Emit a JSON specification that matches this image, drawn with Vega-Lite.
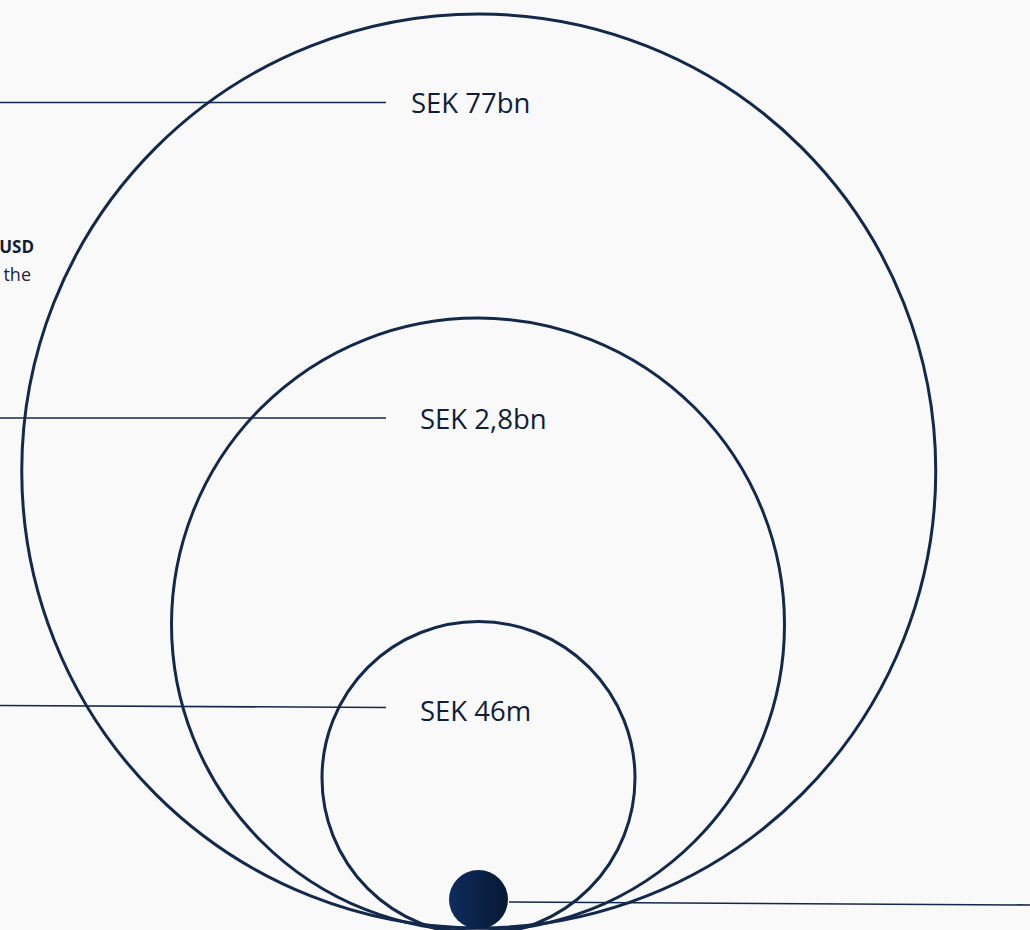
{
  "$schema": "https://vega.github.io/schema/vega-lite/v6.json",
  "autosize": {"type": "none"},
  "width": 1030,
  "height": 930,
  "padding": 0,
  "background": "#f9f9fa",
  "config": {"view": {"stroke": null}},
  "datasets": {
    "circles": [
      {"label": "SEK 77bn", "cx": 478.75, "cy": 471, "r": 457},
      {"label": "SEK 2,8bn", "cx": 478, "cy": 624.5, "r": 306.5},
      {"label": "SEK 46m", "cx": 478.5, "cy": 778, "r": 156.5}
    ],
    "dot": [{"cx": 478.5, "cy": 899.5, "r": 29.5}],
    "leaders": [
      {"x1": 0, "y1": 102.5, "x2": 386, "y2": 102.5},
      {"x1": 0, "y1": 418, "x2": 386, "y2": 418},
      {"x1": 0, "y1": 705.5, "x2": 386, "y2": 707.5},
      {"x1": 509, "y1": 902, "x2": 1030, "y2": 905}
    ],
    "labels": [
      {"text": "SEK 77bn", "x": 411, "y": 113},
      {"text": "SEK 2,8bn", "x": 420, "y": 429},
      {"text": "SEK 46m", "x": 420, "y": 720.5}
    ],
    "side_bold": [{"text": "USD", "x": 34, "y": 253}],
    "side_plain": [{"text": "the", "x": 31, "y": 281}]
  },
  "layer": [
    {
      "data": {"name": "leaders"},
      "mark": {"type": "rule", "color": "#13294b", "strokeWidth": 1.6},
      "encoding": {
        "x": {"field": "x1", "type": "quantitative", "scale": {"domain": [0, 1030], "nice": false, "zero": false}, "axis": null},
        "y": {"field": "y1", "type": "quantitative", "scale": {"domain": [0, 930], "nice": false, "zero": false, "reverse": true}, "axis": null},
        "x2": {"field": "x2"},
        "y2": {"field": "y2"}
      }
    },
    {
      "data": {"name": "circles"},
      "mark": {"type": "point", "shape": "circle", "filled": false, "stroke": "#13294b", "strokeWidth": 3, "opacity": 1},
      "encoding": {
        "x": {"field": "cx", "type": "quantitative", "scale": {"domain": [0, 1030], "nice": false, "zero": false}, "axis": null},
        "y": {"field": "cy", "type": "quantitative", "scale": {"domain": [0, 930], "nice": false, "zero": false, "reverse": true}, "axis": null},
        "size": {"field": "r", "type": "quantitative", "scale": {"type": "pow", "exponent": 2, "domain": [0, 500], "range": [0, 1000000]}, "legend": null}
      }
    },
    {
      "data": {"name": "dot"},
      "mark": {
        "type": "point", "shape": "circle", "filled": true, "opacity": 1, "strokeWidth": 0,
        "fill": {"gradient": "linear", "x1": 0, "y1": 0, "x2": 1, "y2": 0,
          "stops": [{"offset": 0, "color": "#0d2b5c"}, {"offset": 1, "color": "#071933"}]}
      },
      "encoding": {
        "x": {"field": "cx", "type": "quantitative", "scale": {"domain": [0, 1030], "nice": false, "zero": false}, "axis": null},
        "y": {"field": "cy", "type": "quantitative", "scale": {"domain": [0, 930], "nice": false, "zero": false, "reverse": true}, "axis": null},
        "size": {"field": "r", "type": "quantitative", "scale": {"type": "pow", "exponent": 2, "domain": [0, 500], "range": [0, 1000000]}, "legend": null}
      }
    },
    {
      "data": {"name": "labels"},
      "mark": {"type": "text", "align": "left", "baseline": "alphabetic", "font": "Open Sans", "fontSize": 27.5, "color": "#0f1d38"},
      "encoding": {
        "x": {"field": "x", "type": "quantitative", "scale": {"domain": [0, 1030], "nice": false, "zero": false}, "axis": null},
        "y": {"field": "y", "type": "quantitative", "scale": {"domain": [0, 930], "nice": false, "zero": false, "reverse": true}, "axis": null},
        "text": {"field": "text"}
      }
    },
    {
      "data": {"name": "side_bold"},
      "mark": {"type": "text", "align": "right", "baseline": "alphabetic", "font": "Open Sans", "fontSize": 17, "fontWeight": "bold", "color": "#0f1d38"},
      "encoding": {
        "x": {"field": "x", "type": "quantitative", "scale": {"domain": [0, 1030], "nice": false, "zero": false}, "axis": null},
        "y": {"field": "y", "type": "quantitative", "scale": {"domain": [0, 930], "nice": false, "zero": false, "reverse": true}, "axis": null},
        "text": {"field": "text"}
      }
    },
    {
      "data": {"name": "side_plain"},
      "mark": {"type": "text", "align": "right", "baseline": "alphabetic", "font": "Open Sans", "fontSize": 18, "color": "#1a2640"},
      "encoding": {
        "x": {"field": "x", "type": "quantitative", "scale": {"domain": [0, 1030], "nice": false, "zero": false}, "axis": null},
        "y": {"field": "y", "type": "quantitative", "scale": {"domain": [0, 930], "nice": false, "zero": false, "reverse": true}, "axis": null},
        "text": {"field": "text"}
      }
    }
  ]
}
